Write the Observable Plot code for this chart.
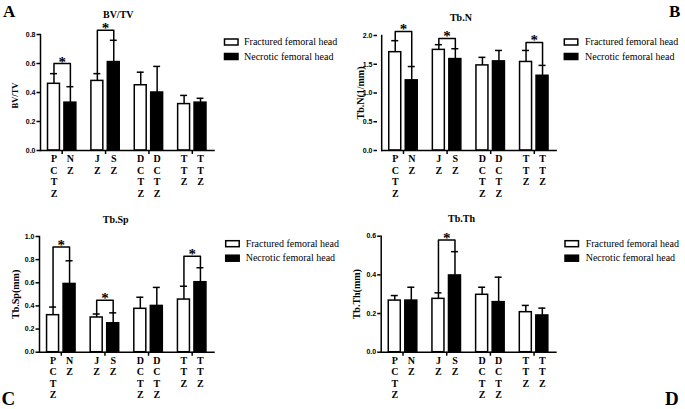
<!DOCTYPE html>
<html><head><meta charset="utf-8">
<script src="https://cdn.jsdelivr.net/npm/d3@7"></script>
<script src="https://cdn.jsdelivr.net/npm/@observablehq/plot@0.6"></script>
<style>
html,body{margin:0;padding:0;background:#fff;}
#root{position:relative;width:685px;height:409px;overflow:hidden;background:#fff;}
</style></head><body><div id="root"></div>
<script>
const SERIF = "'Liberation Serif','Times New Roman',serif";
const SANS = "'Liberation Sans',Arial,sans-serif";

// ---- shared categories ----
const groups = ["PCTZ/NZ", "JZ/SZ", "DCTZ", "TTZ"];
const series = ["Fractured femoral head", "Necrotic femoral head"];
const fracLabels = ["PCTZ", "JZ", "DCTZ", "TTZ"];
const necLabels = ["NZ", "SZ", "DCTZ", "TTZ"];

// ---- A: BV/TV ----
const bvtvFrac = [0.46, 0.48, 0.45, 0.32];
const bvtvFracSD = [0.07, 0.05, 0.09, 0.06];
const bvtvNec = [0.33, 0.61, 0.40, 0.33];
const bvtvNecSD = [0.11, 0.15, 0.18, 0.03];
const bvtvSigGroups = [0, 1];
const bvtvSigLevels = [0.60, 0.83];
const bvtvTicks = [0, 0.2, 0.4, 0.6, 0.8];

// ---- B: Tb.N ----
const tbnFrac = [1.71, 1.75, 1.48, 1.54];
const tbnFracSD = [0.20, 0.09, 0.14, 0.20];
const tbnNec = [1.22, 1.59, 1.55, 1.30];
const tbnNecSD = [0.24, 0.18, 0.19, 0.18];
const tbnSigGroups = [0, 1, 3];
const tbnSigLevels = [2.07, 1.95, 1.88];
const tbnTicks = [0, 0.5, 1.0, 1.5, 2.0];

// ---- C: Tb.Sp ----
const tbspFrac = [0.32, 0.30, 0.375, 0.455];
const tbspFracSD = [0.07, 0.03, 0.10, 0.115];
const tbspNec = [0.59, 0.25, 0.40, 0.605];
const tbspNecSD = [0.20, 0.09, 0.16, 0.125];
const tbspSigGroups = [0, 1, 3];
const tbspSigLevels = [0.91, 0.45, 0.83];
const tbspTicks = [0, 0.2, 0.4, 0.6, 0.8, 1.0];

// ---- D: Tb.Th ----
const tbthFrac = [0.267, 0.276, 0.297, 0.207];
const tbthFracSD = [0.026, 0.031, 0.039, 0.035];
const tbthNec = [0.267, 0.397, 0.259, 0.19];
const tbthNecSD = [0.069, 0.123, 0.129, 0.038];
const tbthSigGroups = [1];
const tbthSigLevels = [0.58];
const tbthTicks = [0, 0.2, 0.4, 0.6];

const root = document.getElementById("root");
function place(node, left, top) {
  node.style.position = "absolute";
  node.style.left = left + "px";
  node.style.top = top + "px";
  root.appendChild(node);
}

function panel(cfg) {
  const rows = [];
  groups.forEach((g, i) => {
    rows.push({group: g, series: series[0], value: cfg.frac[i], sd: cfg.fracSD[i], label: fracLabels[i]});
    rows.push({group: g, series: series[1], value: cfg.nec[i], sd: cfg.necSD[i], label: necLabels[i]});
  });
  const errTop = d => d.value + d.sd;
  const brackets = [];
  const stars = [];
  cfg.sigGroups.forEach((gi, k) => {
    const g = groups[gi], lvl = cfg.sigLevels[k];
    const f = rows.find(r => r.group === g && r.series === series[0]);
    const n = rows.find(r => r.group === g && r.series === series[1]);
    brackets.push({id: k, group: g, series: series[0], y: errTop(f)});
    brackets.push({id: k, group: g, series: series[0], y: lvl});
    brackets.push({id: k, group: g, series: series[1], y: lvl});
    brackets.push({id: k, group: g, series: series[1], y: errTop(n)});
    stars.push({group: g, level: lvl});
  });
  const sw = 1.5;
  const svg = Plot.plot({
    width: cfg.width, height: cfg.height,
    marginLeft: cfg.ml, marginRight: cfg.mr, marginTop: cfg.mt, marginBottom: cfg.mb,
    style: {background: "transparent", overflow: "visible"},
    fx: {domain: groups, paddingInner: 0, paddingOuter: cfg.fxPo, align: 1, round: false, label: null},
    x: {domain: series, paddingInner: 0.273, paddingOuter: 0.458, round: false, axis: null},
    y: {domain: cfg.domain},
    marks: [
      Plot.barY(rows.filter(d => d.series === series[0]), {fx: "group", x: "series", y: "value", fill: "white", stroke: "black", strokeWidth: sw}),
      Plot.barY(rows.filter(d => d.series === series[1]), {fx: "group", x: "series", y: "value", fill: "black", stroke: "black", strokeWidth: sw}),
      Plot.ruleX(rows, {fx: "group", x: "series", y1: "value", y2: errTop, stroke: "black", strokeWidth: sw}),
      Plot.tickY(rows, {fx: "group", x: "series", y: errTop, insetLeft: 2.5, insetRight: 2.5, stroke: "black", strokeWidth: sw}),
      Plot.line(brackets, {fx: "group", x: "series", y: "y", z: "id", stroke: "black", strokeWidth: sw}),
      Plot.text(stars, {fx: "group", y: "level", text: () => "*", lineAnchor: "bottom", dy: 3, fontSize: 15, fontWeight: "bold", fontFamily: SERIF, fill: "black"}),
      Plot.text(rows, {fx: "group", x: "series", text: d => d.label.split("").join("\n"), frameAnchor: "bottom", lineAnchor: "top", dy: 3.5, lineHeight: 1.15, fontSize: 10, fontWeight: "bold", fontFamily: SERIF, fill: "black"}),
      Plot.axisFx({anchor: "bottom", tickSize: 4, tickFormat: () => "", label: null, strokeWidth: sw}),
      Plot.axisY({ticks: cfg.ticks, tickFormat: d3.format(".1f"), tickSize: 3.5, tickPadding: 1.5, label: null, dx: cfg.axisDx, fontSize: 7, fontWeight: "bold", fontFamily: SANS, strokeWidth: sw}),
      Plot.frame({anchor: "bottom", facet: "super", stroke: "black", strokeWidth: sw}),
      Plot.frame({anchor: "left", facet: "super", stroke: "black", strokeWidth: sw}),
      Plot.text([cfg.title], {text: d => d, facet: "super", frameAnchor: "top", lineAnchor: "bottom", dx: cfg.titleDx, dy: cfg.titleDy, fontSize: 10, fontWeight: "bold", fontFamily: SERIF, fill: "black"}),
      Plot.text([cfg.ylabel], {text: d => d, facet: "super", frameAnchor: "left", textAnchor: "middle", rotate: -90, dx: cfg.ylabelDx, dy: cfg.ylabelDy, fontSize: cfg.ylabelSize, fontWeight: "bold", fontFamily: SERIF, fill: "black"})
    ]
  });
  place(svg, cfg.left, cfg.top);
}

panel({left: 0, top: 0, width: 220, height: 205, ml: 40, mr: 6.5, mt: 34, mb: 55, fxPo: 0, axisDx: 0,
  frac: bvtvFrac, fracSD: bvtvFracSD, nec: bvtvNec, necSD: bvtvNecSD, sigGroups: bvtvSigGroups, sigLevels: bvtvSigLevels,
  domain: [0, 0.8], ticks: bvtvTicks, title: "BV/TV", titleDx: -9, titleDy: -16.7, ylabel: "BV/TV", ylabelDx: -25, ylabelDy: 3, ylabelSize: 8.5});
panel({left: 330, top: 0, width: 230, height: 205, ml: 47, mr: 4.4, mt: 35, mb: 55, fxPo: 0.048, axisDx: -4.2,
  frac: tbnFrac, fracSD: tbnFracSD, nec: tbnNec, necSD: tbnNecSD, sigGroups: tbnSigGroups, sigLevels: tbnSigLevels,
  domain: [0, 2], ticks: tbnTicks, title: "Tb.N", titleDx: -8, titleDy: -15, ylabel: "Tb.N(1/mm)", ylabelDx: -21, ylabelDy: 0, ylabelSize: 10});
panel({left: 0, top: 200, width: 220, height: 209, ml: 39, mr: 6.5, mt: 36, mb: 57.3, fxPo: 0, axisDx: 0,
  frac: tbspFrac, fracSD: tbspFracSD, nec: tbspNec, necSD: tbspNecSD, sigGroups: tbspSigGroups, sigLevels: tbspSigLevels,
  domain: [0, 1], ticks: tbspTicks, title: "Tb.Sp", titleDx: -11, titleDy: -14, ylabel: "Tb.Sp(mm)", ylabelDx: -24, ylabelDy: 0, ylabelSize: 10});
panel({left: 330, top: 200, width: 230, height: 209, ml: 50.7, mr: 4.6, mt: 35.7, mb: 57.3, fxPo: 0, axisDx: 0,
  frac: tbthFrac, fracSD: tbthFracSD, nec: tbthNec, necSD: tbthNecSD, sigGroups: tbthSigGroups, sigLevels: tbthSigLevels,
  domain: [0, 0.6], ticks: tbthTicks, title: "Tb.Th", titleDx: -7, titleDy: -14, ylabel: "Tb.Th(mm)", ylabelDx: -24, ylabelDy: 0, ylabelSize: 10});

// ---- overlay: panel letters and legends ----
const overlay = d3.create("svg").attr("width", 685).attr("height", 409).style("pointer-events", "none");
const letters = [
  {t: "A", x: 3, y: 17, s: 17}, {t: "B", x: 669, y: 16.5, s: 17},
  {t: "C", x: 1.5, y: 405, s: 19}, {t: "D", x: 665, y: 405, s: 19}
];
overlay.selectAll("text.letter").data(letters).join("text").attr("class", "letter")
  .attr("x", d => d.x).attr("y", d => d.y).attr("font-size", d => d.s)
  .attr("font-weight", "bold").attr("font-family", SERIF).text(d => d.t);
const legends = [
  {x: 224.5, y: 39, tx: 244, ty: 45.2, gap: 14.5},
  {x: 564.3, y: 39, tx: 585, ty: 45.2, gap: 14.5},
  {x: 225.7, y: 240.7, tx: 245.7, ty: 246.5, gap: 14.5},
  {x: 565, y: 240.7, tx: 585.7, ty: 246.5, gap: 14.5}
];
legends.forEach(L => {
  series.forEach((s, i) => {
    overlay.append("rect").attr("x", L.x).attr("y", L.y + i * L.gap).attr("width", 13.5).attr("height", 6)
      .attr("fill", i === 0 ? "white" : "black").attr("stroke", "black").attr("stroke-width", 1.5);
    overlay.append("text").attr("x", L.tx).attr("y", L.ty + i * L.gap).attr("font-size", 10)
      .attr("font-family", SERIF).text(s);
  });
});
place(overlay.node(), 0, 0);
</script></body></html>
